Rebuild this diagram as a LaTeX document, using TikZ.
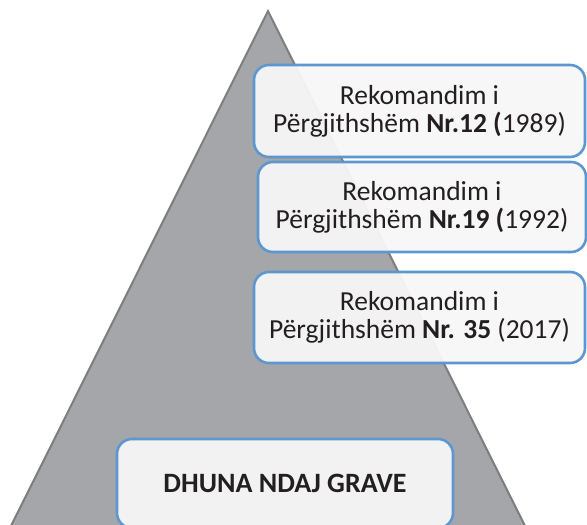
\documentclass[tikz,border=0pt]{standalone}
\usepackage{fontspec}
\setmainfont{Carlito}
\begin{document}
\begin{tikzpicture}[x=1pt,y=-1pt,
  pyramid/.style={fill=pyrfill,draw=pyredge,line width=2pt,line join=miter},
  recbox/.style={draw=boxblue,line width=2.6pt,fill=boxfill,fill opacity=0.95,text opacity=1,
    rounded corners=15pt,align=center,inner sep=0pt,text=textdark,
    font=\fontsize{27.5}{27.8}\selectfont},
]
\definecolor{pyrfill}{HTML}{A5A6AA}
\definecolor{pyredge}{HTML}{7D7E81}
\definecolor{boxblue}{HTML}{5D97CF}
\definecolor{boxfill}{HTML}{F7F7F7}
\definecolor{textdark}{HTML}{231F20}
\clip (0,0) rectangle (587,525);
\fill[white] (0,0) rectangle (587,525);
\draw[pyramid] (268,11) -- (534.5,545) -- (1.5,545) -- cycle;
\node[recbox,minimum width=331pt,minimum height=92pt] (r12) at (419.5,111)
  {Rekomandim i\\Përgjithshëm \textbf{Nr.12 (}1989)};
\node[recbox,minimum width=328pt,minimum height=90pt] (r19) at (422,207)
  {Rekomandim i\\Përgjithshëm \textbf{Nr.19 (}1992)};
\node[recbox,minimum width=331pt,minimum height=91pt] (r35) at (419.5,317.5)
  {Rekomandim i\\Përgjithshëm \textbf{Nr. 35} (2017)};
\node[recbox,minimum width=336pt,minimum height=89pt,font=\fontsize{28}{28}\selectfont\bfseries] (dg) at (285,483.5)
  {DHUNA NDAJ GRAVE};
\end{tikzpicture}
\end{document}
